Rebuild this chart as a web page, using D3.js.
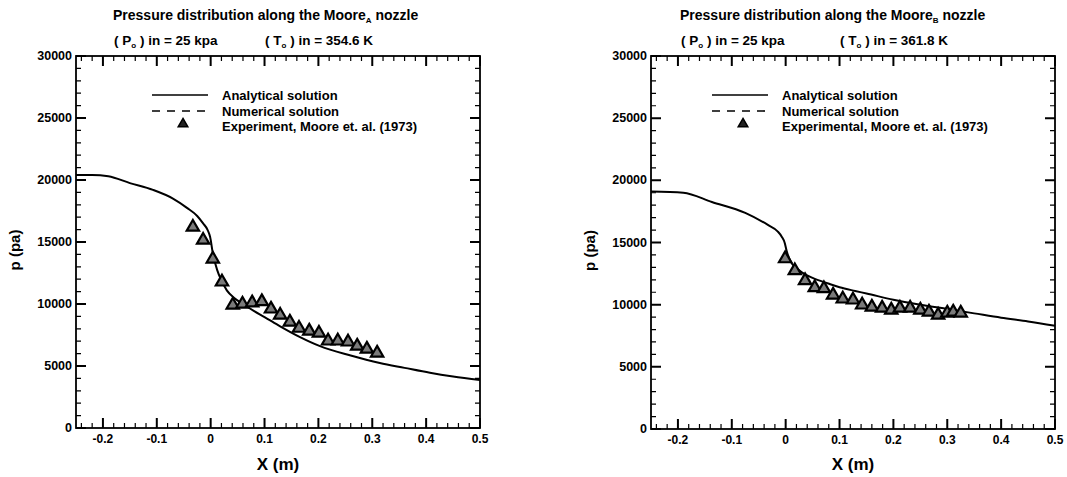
<!DOCTYPE html>
<html>
<head>
<meta charset="utf-8">
<script src="https://cdn.jsdelivr.net/npm/d3@7"></script>
<style>
  body { margin: 0; background: #fff; }
  text { font-family: "Liberation Sans", Arial, sans-serif; font-weight: bold; fill: #000; }
</style>
</head>
<body>
<svg id="chart" width="1067" height="477"></svg>
<script>
// axis ticks
const xTicks = [-0.2, -0.1, 0, 0.1, 0.2, 0.3, 0.4, 0.5];
const yTicks = [0, 5000, 10000, 15000, 20000, 25000, 30000];

// Moore A nozzle: analytical curve
const analyticXA = [-0.25, -0.22, -0.19, -0.15, -0.107, -0.07, -0.044, -0.025, -0.014, -0.006, -0.001, 0.004, 0.012, 0.02, 0.03, 0.045, 0.06, 0.08, 0.1, 0.129, 0.165, 0.203, 0.26, 0.314, 0.36, 0.407, 0.45, 0.5];
const analyticPA = [20400, 20400, 20300, 19750, 19200, 18500, 17750, 17100, 16500, 16000, 15400, 14100, 12750, 11900, 11100, 10450, 10000, 9450, 8950, 8200, 7350, 6600, 5850, 5250, 4850, 4450, 4150, 3870];
// Moore A nozzle: experiment
const expXA = [-0.033, -0.014, 0.004, 0.021, 0.041, 0.059, 0.077, 0.095, 0.112, 0.129, 0.147, 0.164, 0.183, 0.201, 0.218, 0.236, 0.255, 0.272, 0.29, 0.309];
const expPA = [16200, 15150, 13630, 11780, 9920, 10000, 10100, 10200, 9600, 9100, 8550, 8050, 7820, 7650, 7020, 7020, 6940, 6610, 6370, 6050];

// Moore B nozzle: analytical curve
const analyticXB = [-0.25, -0.19, -0.137, -0.075, -0.033, -0.015, -0.007, -0.002, 0.002, 0.01, 0.02, 0.03, 0.05, 0.079, 0.1, 0.129, 0.15, 0.2, 0.25, 0.3, 0.35, 0.4, 0.45, 0.5];
const analyticPB = [19100, 19000, 18260, 17380, 16410, 15900, 15450, 15000, 14300, 13400, 12950, 12600, 12150, 11700, 11400, 11100, 10900, 10400, 10000, 9650, 9300, 8950, 8650, 8300];
// Moore B nozzle: experiment
const expXB = [-0.001, 0.017, 0.036, 0.054, 0.071, 0.088, 0.106, 0.125, 0.142, 0.16, 0.179, 0.196, 0.212, 0.231, 0.25, 0.266, 0.283, 0.3, 0.311, 0.325];
const expPB = [13700, 12740, 11940, 11370, 11290, 10780, 10460, 10380, 9980, 9810, 9730, 9570, 9730, 9730, 9570, 9410, 9170, 9330, 9410, 9330];

const legendLabels = ["Analytical solution", "Numerical solution"];

const svg = d3.select("#chart");

const panels = [
    {
        left: 76, right: 480, top: 56, bottom: 428,
        sub: "A", pIn: "25 kpa", tIn: "354.6 K",
        tx: 113, ttx: 265, stx: 114,
        expLabel: "Experiment, Moore et. al. (1973)",
        legX: 152, legTextX: 222,
        ax: analyticXA, ap: analyticPA, ex: expXA, ep: expPA
    },
    {
        left: 651, right: 1055, top: 56, bottom: 429,
        sub: "B", pIn: "25 kpa", tIn: "361.8 K",
        tx: 680, ttx: 840, stx: 681,
        expLabel: "Experimental, Moore et. al. (1973)",
        legX: 712, legTextX: 782,
        ax: analyticXB, ap: analyticPB, ex: expXB, ep: expPB
    }
];

panels.forEach(drawPanel);

function drawPanel(p) {
    const x = d3.scaleLinear().domain([-0.25, 0.5]).range([p.left, p.right]);
    const y = d3.scaleLinear().domain([0, 30000]).range([p.bottom, p.top]);
    const g = svg.append("g");

    const xMinor = d3.range(-12, 26).map(i => i * 0.02);
    const yMinor = d3.range(0, 31).map(i => i * 1000);
    const isMajorX = v => Math.abs(v * 10 - Math.round(v * 10)) < 1e-6;
    const isMajorY = v => v % 5000 === 0;

    // frame
    g.append("rect")
        .attr("x", p.left).attr("y", p.top)
        .attr("width", p.right - p.left).attr("height", p.bottom - p.top)
        .attr("fill", "none").attr("stroke", "#000").attr("stroke-width", 1.8);

    // inward ticks on all four sides, one path for minor and one for major
    const minorPath = d3.path();
    const majorPath = d3.path();
    xMinor.forEach(v => {
        const m = isMajorX(v);
        const pth = m ? majorPath : minorPath;
        const len = m ? 10 : 5;
        pth.moveTo(x(v), p.bottom); pth.lineTo(x(v), p.bottom - len);
        pth.moveTo(x(v), p.top); pth.lineTo(x(v), p.top + len);
    });
    yMinor.forEach(v => {
        const m = isMajorY(v);
        const pth = m ? majorPath : minorPath;
        const len = m ? 10 : 5;
        pth.moveTo(p.left, y(v)); pth.lineTo(p.left + len, y(v));
        pth.moveTo(p.right, y(v)); pth.lineTo(p.right - len, y(v));
    });
    g.append("path").attr("d", minorPath.toString())
        .attr("fill", "none").attr("stroke", "#000").attr("stroke-width", 1.2);
    g.append("path").attr("d", majorPath.toString())
        .attr("fill", "none").attr("stroke", "#000").attr("stroke-width", 2);

    // tick labels
    g.selectAll("text.xt")
        .data(xTicks)
        .join("text")
        .attr("class", "xt")
        .attr("x", d => x(d))
        .attr("y", p.bottom + 15)
        .attr("text-anchor", "middle")
        .attr("font-size", 12)
        .text(d => d === 0 ? "0" : d.toFixed(1));
    g.selectAll("text.yt")
        .data(yTicks)
        .join("text")
        .attr("class", "yt")
        .attr("x", p.left - 4)
        .attr("y", d => y(d) + 4)
        .attr("text-anchor", "end")
        .attr("font-size", 12.5)
        .text(d => d);

    // analytical curve
    const line = d3.line().x(d => x(d[0])).y(d => y(d[1])).curve(d3.curveMonotoneX);
    g.append("path")
        .datum(p.ax.map((v, i) => [v, p.ap[i]]))
        .attr("d", line)
        .attr("fill", "none").attr("stroke", "#000").attr("stroke-width", 2);

    // experimental triangles
    const tri = d3.symbol().type(d3.symbolTriangle).size(66);
    g.selectAll("path.exp")
        .data(p.ex.map((v, i) => [v, p.ep[i]]))
        .join("path")
        .attr("class", "exp")
        .attr("d", tri)
        .attr("transform", d => `translate(${x(d[0])},${y(d[1])})`)
        .attr("fill", "#7a7a7a").attr("stroke", "#000").attr("stroke-width", 2.2);

    // titles
    const t1 = g.append("text").attr("x", p.tx).attr("y", 20).attr("font-size", 14);
    t1.append("tspan").text("Pressure distribution along the Moore");
    t1.append("tspan").attr("dy", 3).attr("font-size", 8).text(p.sub);
    t1.append("tspan").attr("dy", -3).text(" nozzle");

    const t2 = g.append("text").attr("x", p.stx).attr("y", 45).attr("font-size", 13.5);
    t2.append("tspan").text("( P");
    t2.append("tspan").attr("dy", 3).attr("font-size", 8).text("o");
    t2.append("tspan").attr("dy", -3).text(" ) in = " + p.pIn);

    const t3 = g.append("text").attr("x", p.ttx).attr("y", 45).attr("font-size", 13.5);
    t3.append("tspan").text("( T");
    t3.append("tspan").attr("dy", 3).attr("font-size", 8).text("o");
    t3.append("tspan").attr("dy", -3).text(" ) in = " + p.tIn);

    // axis titles
    g.append("text")
        .attr("x", (p.left + p.right) / 2).attr("y", 470)
        .attr("text-anchor", "middle").attr("font-size", 17)
        .text("X (m)");
    g.append("text")
        .attr("transform", `translate(${p.left - 56},${(p.top + p.bottom) / 2 + 8}) rotate(-90)`)
        .attr("text-anchor", "middle").attr("font-size", 15)
        .text("p (pa)");

    // legend
    const rows = [95, 111, 126];
    g.append("line")
        .attr("x1", p.legX).attr("x2", p.legX + 56)
        .attr("y1", rows[0]).attr("y2", rows[0])
        .attr("stroke", "#000").attr("stroke-width", 1.6);
    g.append("line")
        .attr("x1", p.legX).attr("x2", p.legX + 56)
        .attr("y1", rows[1]).attr("y2", rows[1])
        .attr("stroke", "#000").attr("stroke-width", 1.6)
        .attr("stroke-dasharray", "8,7");
    g.append("path")
        .attr("d", d3.symbol().type(d3.symbolTriangle).size(40))
        .attr("transform", `translate(${p.legX + 31},${rows[2] - 2})`)
        .attr("fill", "#222").attr("stroke", "#000").attr("stroke-width", 1.5);

    const labels = legendLabels.concat([p.expLabel]);
    g.selectAll("text.leg")
        .data(labels)
        .join("text")
        .attr("class", "leg")
        .attr("x", p.legTextX)
        .attr("y", (d, i) => rows[i] + 5)
        .attr("font-size", 13)
        .text(d => d);
}
</script>
</body>
</html>
